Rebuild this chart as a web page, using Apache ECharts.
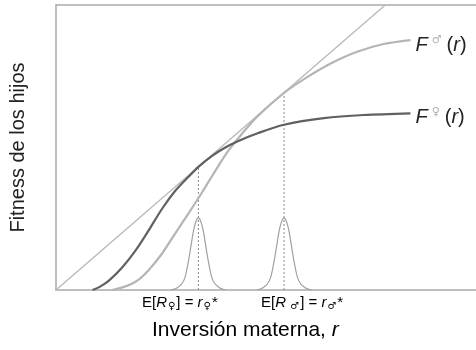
<!DOCTYPE html>
<html><head><meta charset="utf-8">
<script src="https://cdn.jsdelivr.net/npm/echarts@6/dist/echarts.min.js"></script>
<style>html,body{margin:0;padding:0;background:#fff}#c{width:476px;height:350px}</style>
</head><body><div id="c"></div>
<script>
// Data (x: inversión materna 0-100, y: fitness 0-100)
var tangentLine = [[0, 0], [78.4, 100]];
var maleX = [13.4, 16, 18.2, 20, 22.1, 25.3, 28.4, 31.6, 34.8, 38, 41, 44.1, 48, 54.3, 59.9, 65.4, 71.7, 78, 84.4];
var maleY = [0, 1, 2.3, 4, 7.0, 12.9, 19.9, 27, 34.3, 42, 48.8, 54.5, 61, 69.2, 74.8, 79.5, 83.6, 86.3, 87.7];
var femaleX = [8.7, 10.5, 12.6, 15.8, 19, 22.1, 25.3, 28.4, 31.6, 33.9, 37, 40, 43.3, 48, 54.3, 63.8, 73.3, 84.4];
var femaleY = [0, 1.2, 3.3, 8.0, 14.0, 21.0, 28.6, 34.8, 39.8, 43.2, 46.9, 49.75, 52.2, 55.0, 58.0, 60.3, 61.4, 62.0];
var peakFX = [27.3, 28.9, 30.4, 31.4, 32.2, 33.0, 33.9, 34.8, 35.6, 36.4, 37.4, 38.9, 40.5];
var peakMX = [47.7, 49.3, 50.8, 51.8, 52.6, 53.4, 54.3, 55.2, 56.0, 56.8, 57.8, 59.3, 60.9];
var peakY = [0, 0.8, 3.2, 9.1, 16, 22.5, 25.3, 22.5, 16, 9.1, 3.2, 0.8, 0];
var optF = 33.9, optFY = 43.2;
var optM = 54.3, optMY = 69.2;

function zip(xs, ys) { return xs.map(function (x, i) { return [x, ys[i]]; }); }

var chart = echarts.init(document.getElementById('c'));
var axisLine = { show: true, lineStyle: { color: '#aaaaaa', width: 1.5 } };
var FONT = 'Liberation Sans, Arial, sans-serif';
var symRich = {
  F: { fontFamily: FONT, fontSize: 20, fontStyle: 'italic', color: '#222' },
  s: { fontFamily: 'DejaVu Sans', fontSize: 11, color: '#b0b0b0', verticalAlign: 'top', padding: [0, 5, 10, 4] },
  p: { fontFamily: FONT, fontSize: 20, color: '#222' }
};
chart.setOption({
  animation: false,
  grid: { left: 54, right: 0, top: 5, bottom: 60 },
  xAxis: [
    { type: 'value', min: 0, max: 100, position: 'bottom', axisLine: axisLine, axisTick: { show: false }, axisLabel: { show: false }, splitLine: { show: false } },
    { type: 'value', min: 0, max: 100, position: 'top', axisLine: axisLine, axisTick: { show: false }, axisLabel: { show: false }, splitLine: { show: false } }
  ],
  yAxis: { type: 'value', min: 0, max: 100, axisLine: axisLine, axisTick: { show: false }, axisLabel: { show: false }, splitLine: { show: false },
    name: 'Fitness de los hijos', nameLocation: 'middle', nameRotate: 90, nameGap: 28,
    nameTextStyle: { fontFamily: FONT, fontSize: 20, color: '#222' } },
  series: [
    { type: 'line', data: tangentLine, symbol: 'none', lineStyle: { color: '#b8b8b8', width: 1.3 } },
    { type: 'line', data: [[optF, 0], [optF, optFY]], symbol: 'none', lineStyle: { color: '#888', width: 1, type: [2, 2] } },
    { type: 'line', data: [[optM, 0], [optM, optMY]], symbol: 'none', lineStyle: { color: '#888', width: 1, type: [2, 2] } },
    { type: 'line', data: zip(peakFX, peakY), symbol: 'none', smooth: 0.4, lineStyle: { color: '#a0a0a0', width: 1.2 } },
    { type: 'line', data: zip(peakMX, peakY), symbol: 'none', smooth: 0.4, lineStyle: { color: '#a0a0a0', width: 1.2 } },
    { type: 'line', data: zip(maleX, maleY), symbol: 'none', smooth: 0.3, lineStyle: { color: '#b5b5b5', width: 2.2 },
      endLabel: { show: true, distance: 5, offset: [0, 5], formatter: '{F|F}{s|♂}{p|(}{F|r}{p|)}', rich: symRich } },
    { type: 'line', data: zip(femaleX, femaleY), symbol: 'none', smooth: 0.3, lineStyle: { color: '#606060', width: 2.2 },
      endLabel: { show: true, distance: 5, offset: [0, 4], formatter: '{F|F}{s|♀}{p|(}{F|r}{p|)}', rich: symRich } }
  ],
  graphic: [
    { type: 'text', style: { x: 142, y: 303, verticalAlign: 'middle', text: '{n|E[}{i|R}{b|♀}{n|] = }{i|r}{b|♀}{n|*}',
      rich: { n: { fontFamily: FONT, fontSize: 15, color: '#222' }, i: { fontFamily: FONT, fontSize: 15, fontStyle: 'italic', color: '#222' },
              b: { fontFamily: 'DejaVu Sans', fontSize: 10, color: '#aaaaaa', verticalAlign: 'bottom', padding: [6, 1, 0, 1] } } } },
    { type: 'text', style: { x: 261, y: 303, verticalAlign: 'middle', text: '{n|E[}{i|R}{b| ♂}{n|] = }{i|r}{b|♂}{n|*}',
      rich: { n: { fontFamily: FONT, fontSize: 15, color: '#222' }, i: { fontFamily: FONT, fontSize: 15, fontStyle: 'italic', color: '#222' },
              b: { fontFamily: 'DejaVu Sans', fontSize: 10, color: '#aaaaaa', verticalAlign: 'bottom', padding: [6, 1, 0, 1] } } } },
    { type: 'text', style: { x: 152, y: 330, verticalAlign: 'middle', text: '{n|Inversión materna, }{i|r}',
      rich: { n: { fontFamily: FONT, fontSize: 21, color: '#222' }, i: { fontFamily: FONT, fontSize: 21, fontStyle: 'italic', color: '#222' } } } }
  ]
});
</script></body></html>
